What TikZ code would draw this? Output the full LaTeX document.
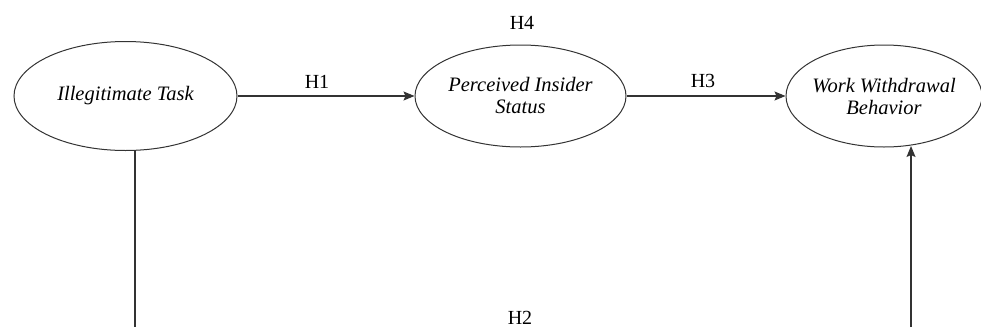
\documentclass[tikz,border=0pt]{standalone}
\usepackage{fontspec}
\setmainfont{Liberation Serif}
\usetikzlibrary{shapes.geometric,arrows.meta}

\begin{document}
\begin{tikzpicture}[x=1pt,y=-1pt,
    construct/.style={ellipse, draw=black!80, line width=1pt, inner xsep=-30pt, inner ysep=0pt, align=center, font=\fontsize{20.5}{22}\selectfont\itshape},
    path/.style={draw=black!80, line width=1.1pt},
    tip/.style={-{Stealth[length=11pt,width=9pt,inset=2pt]}},
    hyp/.style={font=\fontsize{20}{22}\selectfont}]
          \useasboundingbox (0,0) rectangle (981,327);
          \node[construct, minimum width=223pt, minimum height=109pt] (IT) at (125.5,96) {Illegitimate Task};
          \node[construct, minimum width=211pt, minimum height=102pt] (PIS) at (520.5,96) {Perceived Insider\\Status};
          \node[construct, minimum width=196pt, minimum height=102pt] (WWB) at (884,96) {Work Withdrawal\\Behavior};
          \coordinate (ITdown) at (135,327);
          \coordinate (WWBdown) at (911,327);
          \node[hyp] (H1) at (317,82) {H1};
          \node[hyp] (H3) at (703,81) {H3};
          \node[hyp] (H4) at (522,23) {H4};
          \node[hyp] (H2) at (520,318) {H2};
          \draw[path, tip] (IT.east) -- (PIS.west);
          \draw[path, tip] (PIS.east) -- (WWB.west);
          \draw[path] (IT.south -| ITdown) -- (ITdown);
          \draw[path, tip, shorten >=-1.5pt] (WWBdown) -- (WWBdown |- WWB.south);
        \end{tikzpicture}
\end{document}
